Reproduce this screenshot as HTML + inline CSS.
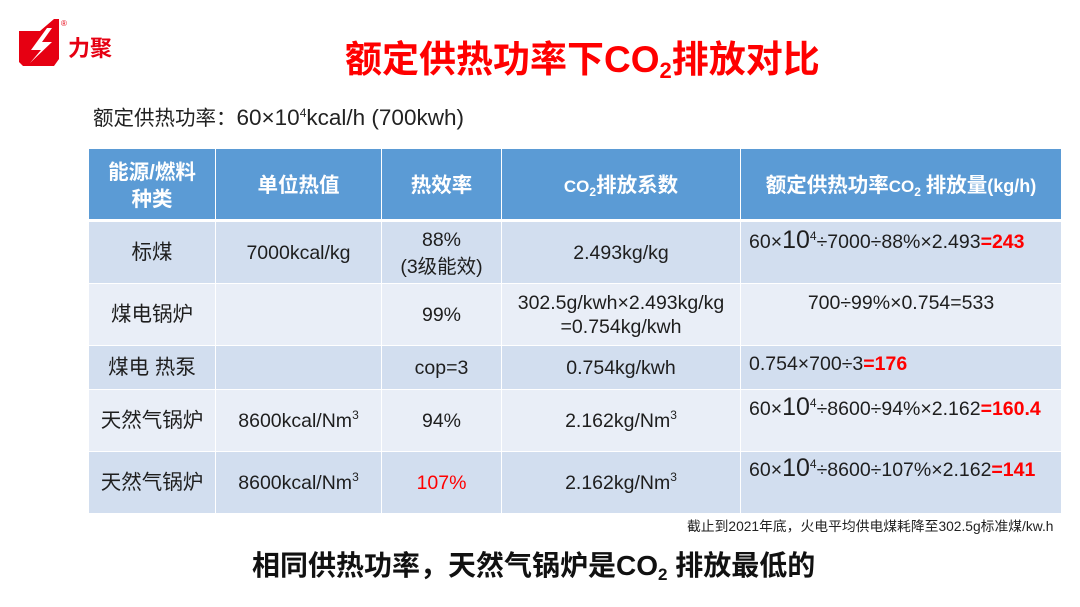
<!DOCTYPE html>
<html><head><meta charset="utf-8">
<style>
html,body{margin:0;padding:0;background:#fff;}
body{width:1080px;height:607px;position:relative;overflow:hidden;font-family:"Liberation Sans","Noto Sans CJK SC",sans-serif;color:#1e1e1e;}
.c{position:absolute;}
.t{position:absolute;white-space:nowrap;line-height:28px;height:28px;font-size:19.5px;}
.ctr{text-align:center;}
.cj{font-size:20.5px;}
.h{color:#fff;font-weight:bold;font-size:20.5px;}
.r{color:#ff0000;font-weight:bold;}
.big{font-size:25px;}
sup{font-size:12px;vertical-align:8px;line-height:0;}
sub{line-height:0;}
</style></head><body>

<!-- logo -->
<svg class="c" style="left:0;top:0" width="130" height="75" viewBox="0 0 130 75">
  <polygon points="19,31 40,31 54,19 59,19 59,59 54,66 23,66 19,62" fill="#e60012"/>
  <polygon points="47,28 31,50 41,50 30,63 52,42 42,42 52,28" fill="#fff"/>
  <text x="61" y="26" font-size="8" fill="#e60012" font-family="Liberation Sans">®</text>
  <text x="68" y="56" font-size="22" font-weight="bold" fill="#e60012" font-family="Noto Sans CJK SC, sans-serif">力聚</text>
</svg>

<!-- title -->
<div class="t" style="left:345px;top:38px;height:44px;line-height:44px;font-size:37px;font-weight:bold;color:#ff0000;">额定供热功率下CO<sub style="font-size:22px;vertical-align:-6px;">2</sub>排放对比</div>

<!-- subtitle -->
<div class="t" style="left:93px;top:104px;font-size:20.5px;color:#222;">额定供热功率：<span style="font-size:22.5px">60×10<sup>4</sup>kcal/h (700kwh)</span></div>

<!-- table backgrounds -->
<div class="c" style="left:89px;top:149px;width:126px;height:70px;background:#5b9bd5"></div>
<div class="c" style="left:216px;top:149px;width:165px;height:70px;background:#5b9bd5"></div>
<div class="c" style="left:382px;top:149px;width:119px;height:70px;background:#5b9bd5"></div>
<div class="c" style="left:502px;top:149px;width:238px;height:70px;background:#5b9bd5"></div>
<div class="c" style="left:741px;top:149px;width:320px;height:70px;background:#5b9bd5"></div>

<!-- row 1 -->
<div class="c" style="left:89px;top:222px;width:126px;height:61px;background:#d2deef"></div>
<div class="c" style="left:216px;top:222px;width:165px;height:61px;background:#d2deef"></div>
<div class="c" style="left:382px;top:222px;width:119px;height:61px;background:#d2deef"></div>
<div class="c" style="left:502px;top:222px;width:238px;height:61px;background:#d2deef"></div>
<div class="c" style="left:741px;top:222px;width:320px;height:61px;background:#d2deef"></div>
<!-- row 2 -->
<div class="c" style="left:89px;top:284px;width:126px;height:61px;background:#e9eef7"></div>
<div class="c" style="left:216px;top:284px;width:165px;height:61px;background:#e9eef7"></div>
<div class="c" style="left:382px;top:284px;width:119px;height:61px;background:#e9eef7"></div>
<div class="c" style="left:502px;top:284px;width:238px;height:61px;background:#e9eef7"></div>
<div class="c" style="left:741px;top:284px;width:320px;height:61px;background:#e9eef7"></div>
<!-- row 3 -->
<div class="c" style="left:89px;top:346px;width:126px;height:43px;background:#d2deef"></div>
<div class="c" style="left:216px;top:346px;width:165px;height:43px;background:#d2deef"></div>
<div class="c" style="left:382px;top:346px;width:119px;height:43px;background:#d2deef"></div>
<div class="c" style="left:502px;top:346px;width:238px;height:43px;background:#d2deef"></div>
<div class="c" style="left:741px;top:346px;width:320px;height:43px;background:#d2deef"></div>
<!-- row 4 -->
<div class="c" style="left:89px;top:390px;width:126px;height:61px;background:#e9eef7"></div>
<div class="c" style="left:216px;top:390px;width:165px;height:61px;background:#e9eef7"></div>
<div class="c" style="left:382px;top:390px;width:119px;height:61px;background:#e9eef7"></div>
<div class="c" style="left:502px;top:390px;width:238px;height:61px;background:#e9eef7"></div>
<div class="c" style="left:741px;top:390px;width:320px;height:61px;background:#e9eef7"></div>
<!-- row 5 -->
<div class="c" style="left:89px;top:452px;width:126px;height:61px;background:#d2deef"></div>
<div class="c" style="left:216px;top:452px;width:165px;height:61px;background:#d2deef"></div>
<div class="c" style="left:382px;top:452px;width:119px;height:61px;background:#d2deef"></div>
<div class="c" style="left:502px;top:452px;width:238px;height:61px;background:#d2deef"></div>
<div class="c" style="left:741px;top:452px;width:320px;height:61px;background:#d2deef"></div>

<!-- header text -->
<div class="t ctr h" style="left:89px;width:126px;top:159px;">能源/燃料</div>
<div class="t ctr h" style="left:89px;width:126px;top:186px;">种类</div>
<div class="t ctr h" style="left:216px;width:165px;top:172px;">单位热值</div>
<div class="t ctr h" style="left:382px;width:119px;top:172px;">热效率</div>
<div class="t ctr h" style="left:502px;width:238px;top:172px;"><span style="font-size:17px">CO<sub style="font-size:12px;vertical-align:-4px">2</sub></span>排放系数</div>
<div class="t ctr h" style="left:741px;width:320px;top:172px;">额定供热功率<span style="font-size:17px">CO<sub style="font-size:12px;vertical-align:-4px">2</sub> </span>排放量<span style="font-size:18px">(kg/h)</span></div>

<!-- row 1 text -->
<div class="t ctr cj" style="left:89px;width:126px;top:239px;">标煤</div>
<div class="t ctr" style="left:216px;width:165px;top:239px;">7000kcal/kg</div>
<div class="t ctr" style="left:382px;width:119px;top:226px;">88%</div>
<div class="t ctr" style="left:382px;width:119px;top:253px;">(3级能效)</div>
<div class="t ctr" style="left:502px;width:238px;top:239px;">2.493kg/kg</div>
<div class="t" style="left:749px;top:226px;">60×<span class="big">10</span><sup>4</sup>÷7000÷88%×2.493<span class="r">=243</span></div>

<!-- row 2 text -->
<div class="t ctr cj" style="left:89px;width:126px;top:301px;">煤电锅炉</div>
<div class="t ctr" style="left:382px;width:119px;top:301px;">99%</div>
<div class="t ctr" style="left:502px;width:238px;top:289px;">302.5g/kwh×2.493kg/kg</div>
<div class="t ctr" style="left:502px;width:238px;top:313px;">=0.754kg/kwh</div>
<div class="t ctr" style="left:741px;width:320px;top:289px;">700÷99%×0.754=533</div>

<!-- row 3 text -->
<div class="t ctr cj" style="left:89px;width:126px;top:354px;">煤电 热泵</div>
<div class="t ctr" style="left:382px;width:119px;top:354px;">cop=3</div>
<div class="t ctr" style="left:502px;width:238px;top:354px;">0.754kg/kwh</div>
<div class="t" style="left:749px;top:350px;">0.754×700÷3<span class="r">=176</span></div>

<!-- row 4 text -->
<div class="t ctr cj" style="left:89px;width:126px;top:407px;">天然气锅炉</div>
<div class="t ctr" style="left:216px;width:165px;top:407px;">8600kcal/Nm<sup>3</sup></div>
<div class="t ctr" style="left:382px;width:119px;top:407px;">94%</div>
<div class="t ctr" style="left:502px;width:238px;top:407px;">2.162kg/Nm<sup>3</sup></div>
<div class="t" style="left:749px;top:393px;">60×<span class="big">10</span><sup>4</sup>÷8600÷94%×2.162<span class="r">=160.4</span></div>

<!-- row 5 text -->
<div class="t ctr cj" style="left:89px;width:126px;top:469px;">天然气锅炉</div>
<div class="t ctr" style="left:216px;width:165px;top:469px;">8600kcal/Nm<sup>3</sup></div>
<div class="t ctr" style="left:382px;width:119px;top:469px;color:#ff0000;">107%</div>
<div class="t ctr" style="left:502px;width:238px;top:469px;">2.162kg/Nm<sup>3</sup></div>
<div class="t" style="left:749px;top:454px;">60×<span class="big">10</span><sup>4</sup>÷8600÷107%×2.162<span class="r">=141</span></div>

<!-- footnote -->
<div class="t" style="left:687px;top:517px;height:20px;line-height:20px;font-size:13.8px;color:#222;">截止到2021年底，火电平均供电煤耗降至302.5g标准煤/kw.h</div>

<!-- bottom conclusion -->
<div class="t" style="left:252px;top:549px;height:34px;line-height:34px;font-size:28px;font-weight:bold;color:#111;">相同供热功率，天然气锅炉是CO<sub style="font-size:17px;vertical-align:-5px;">2</sub> 排放最低的</div>

</body></html>
